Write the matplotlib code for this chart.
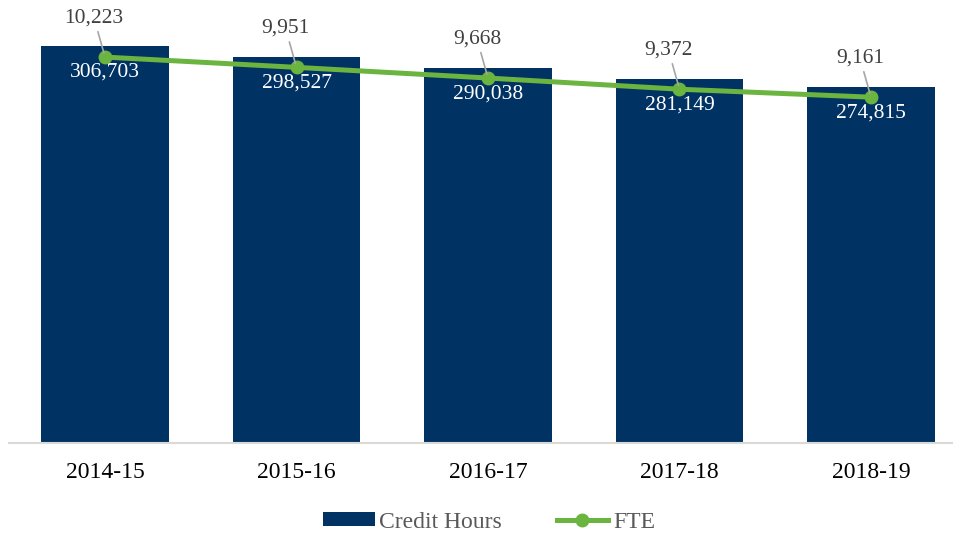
import matplotlib
matplotlib.use("Agg")
import matplotlib.pyplot as plt
from matplotlib.patches import Patch
from matplotlib.lines import Line2D

categories = ["2014-15", "2015-16", "2016-17", "2017-18", "2018-19"]
credit_hours = [306703, 298527, 290038, 281149, 274815]
fte = [10223, 9951, 9668, 9372, 9161]

plt.rcParams['font.family'] = ['Liberation Serif', 'DejaVu Serif']

W, H = 954, 536
fig = plt.figure(figsize=(W / 100, H / 100), dpi=100)
left_px, right_px = 9.3, 966.7
bottom_px, top_px = 443, -10
ax = fig.add_axes([left_px / W, (H - bottom_px) / H, (right_px - left_px) / W, (bottom_px - top_px) / H])

navy = "#003263"
green = "#6BB43F"
x = list(range(len(categories)))
bars = ax.bar(x, credit_hours, width=0.668, color=navy, zorder=2)
ax.set_xlim(-0.5, len(categories) - 0.5)
ax.set_ylim(0, 350000)
for s in ["top", "left", "right"]:
    ax.spines[s].set_visible(False)
ax.spines["bottom"].set_color("#D9D9D9")
ax.spines["bottom"].set_linewidth(1.5)
ax.set_yticks([])
ax.set_xticks(x)
ax.set_xticklabels(categories, fontsize=17, color="black")
ax.tick_params(axis="x", length=0, pad=14)

for xi, v in zip(x, credit_hours):
    ax.annotate(f"{v:,}", (xi, v), xytext=(0, -26), textcoords="offset pixels",
                ha="center", va="center", color="white", fontsize=15.5, zorder=5)

ax2 = ax.twinx()
ax2.set_ylim(0, 12000)
for s in ["top", "left", "right", "bottom"]:
    ax2.spines[s].set_visible(False)
ax2.set_yticks([])
ax2.plot(x, fte, color=green, lw=3.6, marker="o", ms=9, zorder=3, solid_capstyle="round")
for xi, v in zip(x, fte):
    ax2.annotate(f"{v:,}", (xi, v), xytext=(-11, 39), textcoords="offset pixels",
                 ha="center", va="center", color="#404040", fontsize=15.5,
                 arrowprops=dict(arrowstyle="-", color="#A6A6A6", lw=1.2,
                                 shrinkA=1, shrinkB=3))

handles = [Patch(facecolor=navy, edgecolor="none"),
           Line2D([], [], color=green, lw=3.6, marker="o", ms=9)]
fig.legend(handles, ["Credit Hours", "FTE"], loc="center",
           bbox_to_anchor=(489 / W, 1 - 522 / H), ncol=2, frameon=False,
           fontsize=17, labelcolor="#595959", handlelength=2.2, handleheight=0.55,
           handletextpad=0.2, columnspacing=2.3)

fig.savefig("out.png", dpi=100)
